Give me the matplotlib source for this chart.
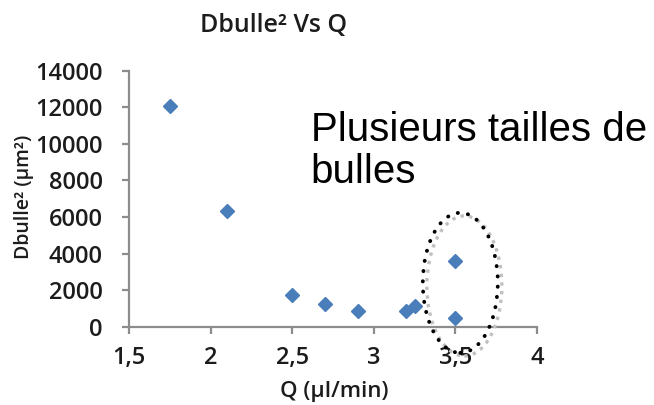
import matplotlib
matplotlib.use("Agg")
from matplotlib import pyplot as plt
from matplotlib.patches import Ellipse

# data
q_values = [1.75, 2.1, 2.5, 2.7, 2.9, 3.2, 3.25, 3.5, 3.5]
d2_values = [12050, 6330, 1760, 1220, 880, 880, 1130, 3600, 480]
x_ticks = [1.5, 2, 2.5, 3, 3.5, 4]
x_tick_labels = ["1,5", "2", "2,5", "3", "3,5", "4"]
y_ticks = [0, 2000, 4000, 6000, 8000, 10000, 12000, 14000]

title = "Dbulle² Vs Q"
x_label = "Q (µl/min)"
y_label = "Dbulle² (µm²)"
note = "Plusieurs tailles de\nbulles"

ink = "#1c1c1c"
axis_grey = "#8c8c8c"
marker_blue = "#4a7ebb"

plt.rcParams['font.family'] = ['Open Sans', 'DejaVu Sans']

fig = plt.figure(figsize=(6.54, 4.05), dpi=100)
ax = fig.add_axes([0.1977, 0.1933, 0.6233, 0.6321])

ax.plot(q_values, d2_values, linestyle="none", marker="D", markersize=7,
        color=marker_blue, markeredgecolor=marker_blue, clip_on=False, zorder=3)

ax.set_xlim(1.5, 4)
ax.set_ylim(0, 14000)
ax.set_xticks(x_ticks, x_tick_labels)
ax.set_yticks(y_ticks, [str(it) for it in y_ticks])

for side in ("top", "right"):
    ax.spines[side].set_visible(False)
for side in ("left", "bottom"):
    ax.spines[side].set_color(axis_grey)
    ax.spines[side].set_linewidth(1.6)
ax.tick_params(axis="both", direction="out", length=5, width=1.6, color=axis_grey,
               labelsize=17, labelcolor=ink)
ax.tick_params(axis="x", pad=9)
ax.tick_params(axis="y", pad=14)
for lbl in ax.get_xticklabels() + ax.get_yticklabels():
    lbl.set_fontweight("semibold")

fig.text(0.419, 0.936, title, ha="center", va="center", fontsize=18,
         fontweight="semibold", color=ink)
fig.text(0.511, 0.033, x_label, ha="center", va="center", fontsize=16,
         fontweight="semibold", color=ink)
fig.text(0.037, 0.514, y_label, ha="center", va="center", rotation=90,
         fontsize=14, fontweight="semibold", color=ink)

# annotation and the dotted ellipse round the 3.5 points
fig.text(0.475, 0.548, note, ha="left", va="baseline", fontsize=29,
         family=["Liberation Sans", "DejaVu Sans"], color="black", linespacing=1.15)

grey_ring = Ellipse((3.555, 2230), 0.46, 7660, fill=False, edgecolor="#c0c0c0",
                    linewidth=2.4, linestyle=(0, (1.0, 1.6)), clip_on=False, zorder=4)
black_ring = Ellipse((3.53, 2400), 0.46, 7660, fill=False, edgecolor="black",
                     linewidth=2.8, linestyle=(0, (0.05, 2.6)), capstyle="round",
                     clip_on=False, zorder=5)
ax.add_patch(grey_ring)
ax.add_patch(black_ring)

fig.savefig("out.png", dpi=100, facecolor="white")
